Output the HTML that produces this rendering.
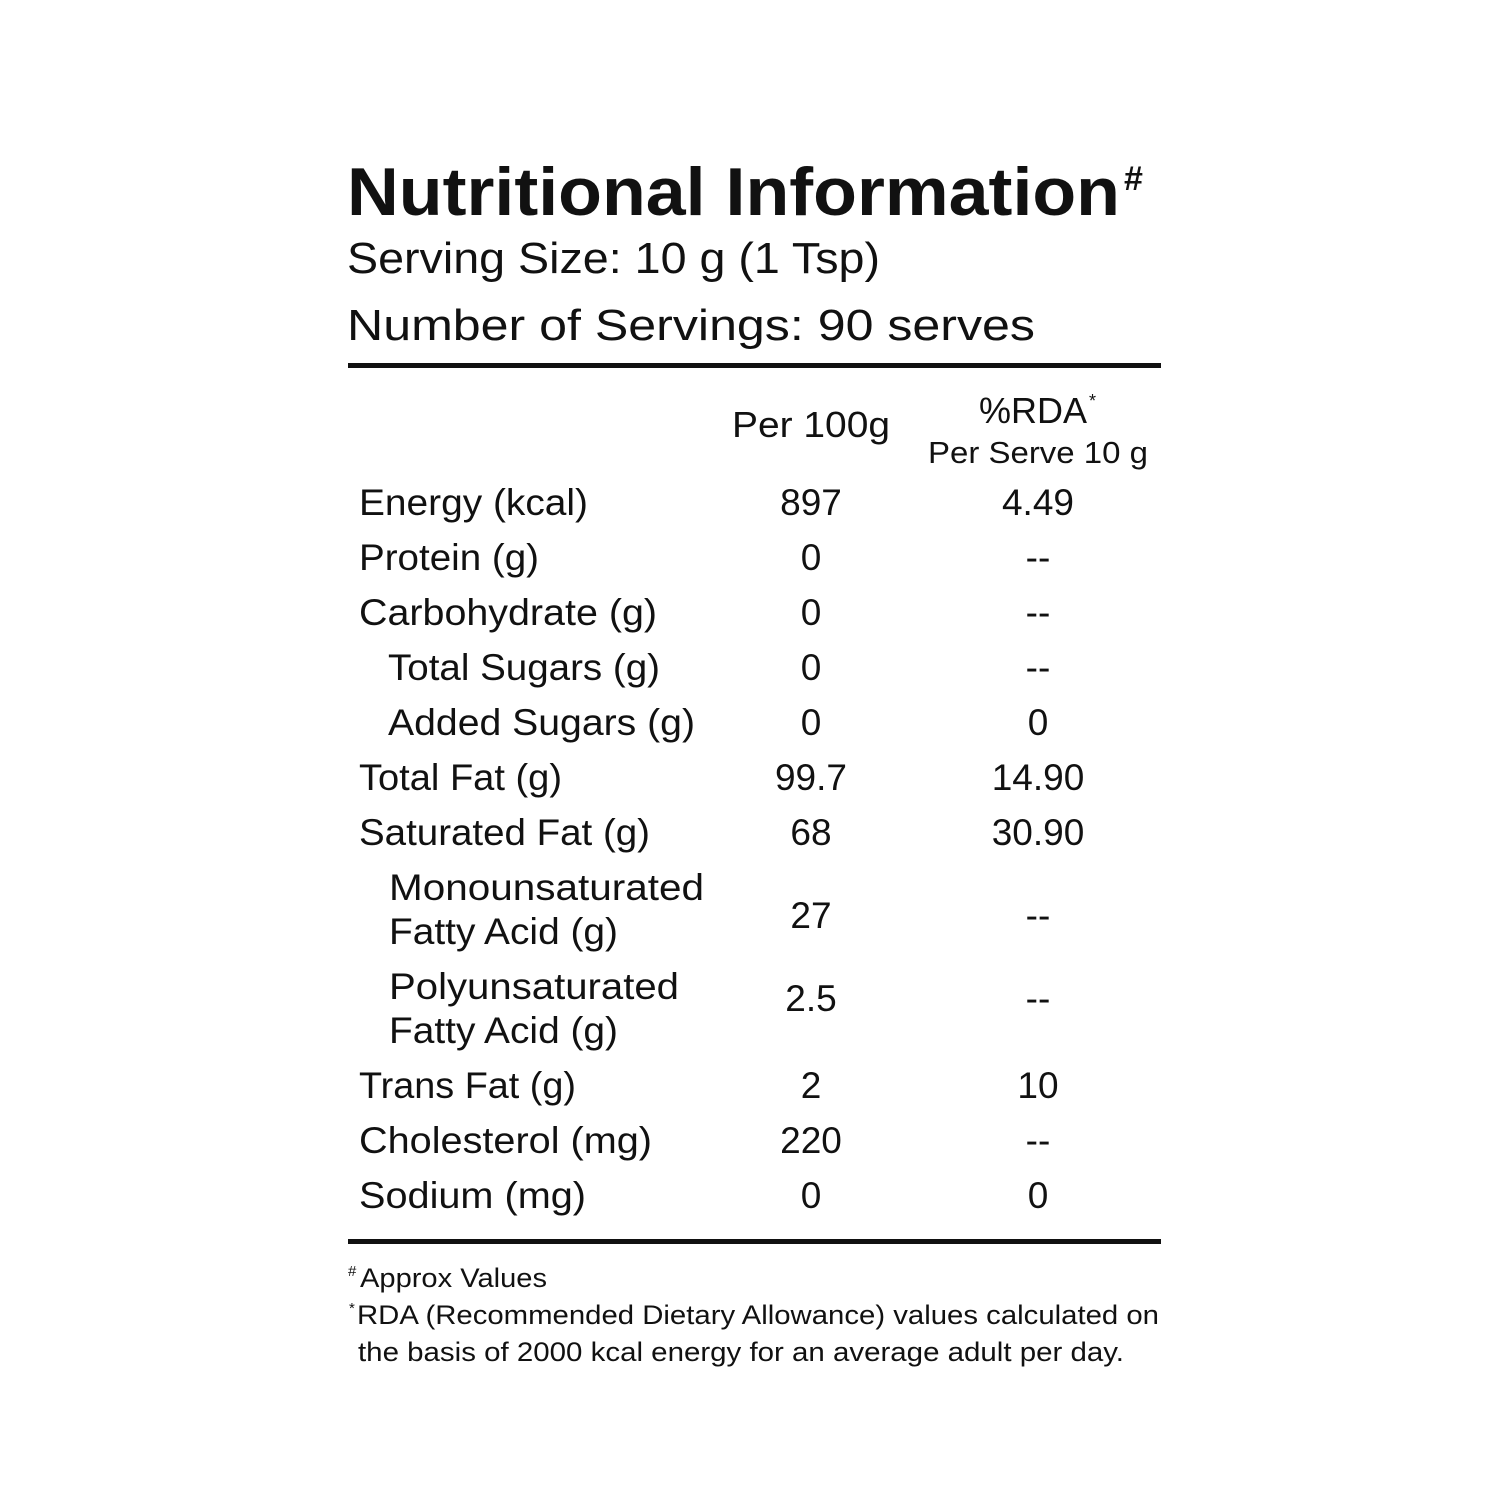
<!DOCTYPE html>
<html><head><meta charset="utf-8"><style>
html,body{margin:0;padding:0;background:#fff;}
svg{display:block;}
text{font-family:"Liberation Sans",sans-serif;fill:#111;}
</style></head><body>
<svg width="1500" height="1500" viewBox="0 0 1500 1500">
<rect width="1500" height="1500" fill="#fff"/>
<text x="347" y="215" font-size="68" font-weight="bold" textLength="773" lengthAdjust="spacingAndGlyphs">Nutritional Information</text>
<text x="1124" y="190" font-size="34" font-weight="bold">#</text>
<text x="347" y="273" font-size="44" textLength="533" lengthAdjust="spacingAndGlyphs">Serving Size: 10 g (1 Tsp)</text>
<text x="347" y="340" font-size="44" textLength="688" lengthAdjust="spacingAndGlyphs">Number of Servings: 90 serves</text>
<rect x="348" y="363" width="813" height="5" fill="#111"/>
<text x="732" y="437" font-size="36" textLength="158" lengthAdjust="spacingAndGlyphs">Per 100g</text>
<text x="979" y="423" font-size="36" textLength="108" lengthAdjust="spacingAndGlyphs">%RDA</text>
<text x="1089" y="407" font-size="18">*</text>
<text x="928" y="463" font-size="31" textLength="220" lengthAdjust="spacingAndGlyphs">Per Serve 10 g</text>
<g font-size="37">
<text x="359" y="515" textLength="229" lengthAdjust="spacingAndGlyphs">Energy (kcal)</text>
<text x="359" y="570" textLength="180" lengthAdjust="spacingAndGlyphs">Protein (g)</text>
<text x="359" y="625" textLength="298" lengthAdjust="spacingAndGlyphs">Carbohydrate (g)</text>
<text x="388" y="680" textLength="272" lengthAdjust="spacingAndGlyphs">Total Sugars (g)</text>
<text x="388" y="735" textLength="307" lengthAdjust="spacingAndGlyphs">Added Sugars (g)</text>
<text x="359" y="790" textLength="203" lengthAdjust="spacingAndGlyphs">Total Fat (g)</text>
<text x="359" y="845" textLength="291" lengthAdjust="spacingAndGlyphs">Saturated Fat (g)</text>
<text x="389" y="900" textLength="315" lengthAdjust="spacingAndGlyphs">Monounsaturated</text>
<text x="389" y="944" textLength="229" lengthAdjust="spacingAndGlyphs">Fatty Acid (g)</text>
<text x="389" y="999" textLength="290" lengthAdjust="spacingAndGlyphs">Polyunsaturated</text>
<text x="389" y="1043" textLength="229" lengthAdjust="spacingAndGlyphs">Fatty Acid (g)</text>
<text x="359" y="1098" textLength="217" lengthAdjust="spacingAndGlyphs">Trans Fat (g)</text>
<text x="359" y="1153" textLength="293" lengthAdjust="spacingAndGlyphs">Cholesterol (mg)</text>
<text x="359" y="1208" textLength="227" lengthAdjust="spacingAndGlyphs">Sodium (mg)</text>
</g>
<g font-size="37" text-anchor="middle">
<text x="811" y="515">897</text><text x="1038" y="515">4.49</text>
<text x="811" y="570">0</text><text x="1038" y="570">--</text>
<text x="811" y="625">0</text><text x="1038" y="625">--</text>
<text x="811" y="680">0</text><text x="1038" y="680">--</text>
<text x="811" y="735">0</text><text x="1038" y="735">0</text>
<text x="811" y="790">99.7</text><text x="1038" y="790">14.90</text>
<text x="811" y="845">68</text><text x="1038" y="845">30.90</text>
<text x="811" y="928">27</text><text x="1038" y="928">--</text>
<text x="811" y="1011">2.5</text><text x="1038" y="1011">--</text>
<text x="811" y="1098">2</text><text x="1038" y="1098">10</text>
<text x="811" y="1153">220</text><text x="1038" y="1153">--</text>
<text x="811" y="1208">0</text><text x="1038" y="1208">0</text>
</g>
<rect x="348" y="1239" width="813" height="5" fill="#111"/>
<text x="348" y="1276" font-size="15">#</text>
<text x="360" y="1287" font-size="27" textLength="187" lengthAdjust="spacingAndGlyphs">Approx Values</text>
<text x="349" y="1313" font-size="15">*</text>
<text x="357" y="1324" font-size="27" textLength="802" lengthAdjust="spacingAndGlyphs">RDA (Recommended Dietary Allowance) values calculated on</text>
<text x="358" y="1361" font-size="27" textLength="766" lengthAdjust="spacingAndGlyphs">the basis of  2000 kcal energy for an average adult per day.</text>
</svg>
</body></html>
